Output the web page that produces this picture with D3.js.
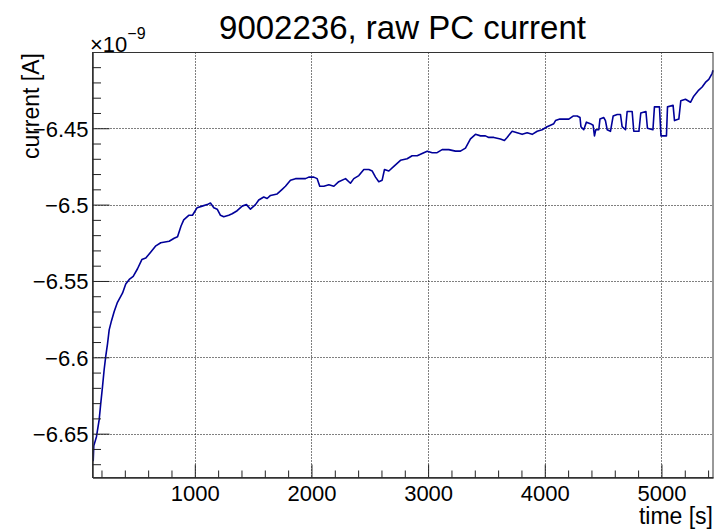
<!DOCTYPE html>
<html>
<head>
<meta charset="utf-8">
<script src="https://cdn.jsdelivr.net/npm/d3@7"></script>
<style>
  body { margin: 0; background: #fff; }
  svg { display: block; font-family: "Liberation Sans", Arial, Helvetica, sans-serif; }
</style>
</head>
<body>
<svg id="chart" width="715" height="532"></svg>
<script>
// Raw PC current of run 9002236, sampled over time
const timeS = [
  129, 134, 157, 180, 194, 209, 223, 237, 252, 266, 286, 309, 337, 380, 408, 438, 472, 509, 546, 580,
  623, 666, 708, 780, 823, 852, 882, 905, 948, 980, 1020, 1063, 1106, 1134, 1163, 1192, 1220, 1248, 1291, 1320,
  1363, 1406, 1443, 1477, 1520, 1548, 1591, 1620, 1649, 1706, 1749, 1777, 1820, 1863, 1906, 1949, 1977, 2020, 2049, 2071,
  2106, 2149, 2192, 2234, 2292, 2334, 2363, 2406, 2449, 2492, 2521, 2549, 2577, 2606, 2626, 2663, 2706, 2763, 2820, 2863,
  2906, 2963, 2992, 3035, 3077, 3120, 3177, 3234, 3277, 3320, 3363, 3406, 3449, 3491, 3520, 3563, 3620, 3654, 3677, 3720,
  3763, 3806, 3849, 3892, 3935, 3977, 4020, 4049, 4077, 4092, 4129, 4178, 4206, 4243, 4278, 4302, 4310, 4334, 4357, 4391,
  4414, 4426, 4437, 4463, 4473, 4506, 4520, 4535, 4563, 4586, 4621, 4649, 4663, 4692, 4706, 4749, 4763, 4807, 4823, 4867,
  4880, 4927, 4940, 4983, 4996, 5043, 5052, 5100, 5112, 5149, 5166, 5206, 5249, 5277, 5320, 5349, 5377, 5406, 5435, 5442
];
// current in units of 1e-9 A
const currentNA = [
  -6.668, -6.658, -6.652, -6.641, -6.630, -6.619, -6.608, -6.599, -6.591, -6.582, -6.576, -6.570, -6.564, -6.558, -6.552, -6.549, -6.547, -6.542, -6.536, -6.535,
  -6.531, -6.527, -6.525, -6.524, -6.522, -6.521, -6.514, -6.510, -6.507, -6.507, -6.502, -6.501, -6.500, -6.499, -6.502, -6.503, -6.507, -6.508, -6.507, -6.506,
  -6.504, -6.501, -6.500, -6.503, -6.500, -6.497, -6.495, -6.496, -6.494, -6.493, -6.490, -6.488, -6.484, -6.483, -6.483, -6.483, -6.482, -6.482, -6.483, -6.488,
  -6.488, -6.487, -6.488, -6.485, -6.483, -6.486, -6.483, -6.481, -6.477, -6.477, -6.478, -6.482, -6.485, -6.484, -6.477, -6.478, -6.475, -6.471, -6.470, -6.468,
  -6.468, -6.466, -6.465, -6.466, -6.466, -6.464, -6.464, -6.465, -6.465, -6.463, -6.457, -6.454, -6.455, -6.455, -6.456, -6.456, -6.457, -6.458, -6.456, -6.452,
  -6.453, -6.454, -6.453, -6.454, -6.452, -6.451, -6.449, -6.448, -6.447, -6.445, -6.444, -6.444, -6.444, -6.442, -6.442, -6.443, -6.449, -6.451, -6.446, -6.447,
  -6.448, -6.455, -6.451, -6.451, -6.444, -6.443, -6.445, -6.451, -6.452, -6.442, -6.441, -6.441, -6.449, -6.451, -6.439, -6.439, -6.452, -6.452, -6.440, -6.439,
  -6.450, -6.451, -6.436, -6.436, -6.455, -6.455, -6.436, -6.435, -6.445, -6.444, -6.432, -6.431, -6.433, -6.429, -6.425, -6.423, -6.420, -6.418, -6.414, -6.412
];

const xDomain = [123, 5442];
const yDomain = [-6.6787, -6.4004];
const xMajorTicks = [1000, 2000, 3000, 4000, 5000];
const xTickLabels = ["1000", "2000", "3000", "4000", "5000"];
const yMajorTicks = [-6.65, -6.6, -6.55, -6.5, -6.45];
const yTickLabels = ["\u22126.65", "\u22126.6", "\u22126.55", "\u22126.5", "\u22126.45"];
const xMinorStep = 200;
const yMinorStep = 0.01;

const frame = { left: 92.5, right: 713, top: 52.5, bottom: 477.5 };
const svg = d3.select("#chart");

const x = d3.scaleLinear().domain(xDomain).range([frame.left, frame.right]);
const y = d3.scaleLinear().domain(yDomain).range([frame.bottom, frame.top]);

// minor tick positions inside the visible range
const xMinor = d3.range(Math.ceil(xDomain[0] / xMinorStep) * xMinorStep, xDomain[1], xMinorStep)
  .filter(v => !xMajorTicks.includes(v));
const yMinor = d3.range(Math.ceil(yDomain[0] / yMinorStep), yDomain[1] / yMinorStep, 1)
  .map(v => +(v * yMinorStep).toFixed(2))
  .filter(v => v > yDomain[0] && v < yDomain[1] && !yMajorTicks.some(m => Math.abs(m - v) < 1e-6));

// dotted grid at major ticks
const grid = svg.append("g").attr("stroke", "#000").attr("stroke-width", 1)
  .attr("stroke-dasharray", "1,2");
grid.selectAll("line.gx").data(xMajorTicks).join("line").attr("class", "gx")
  .attr("x1", d => Math.round(x(d)) + 0.5).attr("x2", d => Math.round(x(d)) + 0.5)
  .attr("y1", frame.top).attr("y2", frame.bottom);
grid.selectAll("line.gy").data(yMajorTicks).join("line").attr("class", "gy")
  .attr("y1", d => Math.round(y(d)) + 0.5).attr("y2", d => Math.round(y(d)) + 0.5)
  .attr("x1", frame.left).attr("x2", frame.right);

// data line
const line = d3.line().x((d, i) => x(timeS[i])).y((d, i) => y(currentNA[i]));
svg.append("path").datum(currentNA)
  .attr("d", line)
  .attr("fill", "none")
  .attr("stroke", "#000099")
  .attr("stroke-width", 1.6)
  .attr("stroke-linejoin", "round");

// frame
svg.append("rect")
  .attr("x", frame.left).attr("y", frame.top)
  .attr("width", frame.right - frame.left).attr("height", frame.bottom - frame.top)
  .attr("fill", "none").attr("stroke", "#333").attr("stroke-width", 1);

// axes with inward ticks
const xAxis = svg.append("g").attr("transform", `translate(0,${frame.bottom})`)
  .call(d3.axisBottom(x).tickValues(xMajorTicks).tickFormat((d, i) => xTickLabels[i])
    .tickSizeInner(-13).tickSizeOuter(0).tickPadding(8));
svg.append("g").attr("transform", `translate(0,${frame.bottom})`)
  .call(d3.axisBottom(x).tickValues(xMinor).tickFormat("").tickSizeInner(-7).tickSizeOuter(0));

const yAxis = svg.append("g").attr("transform", `translate(${frame.left},0)`)
  .call(d3.axisLeft(y).tickValues(yMajorTicks).tickFormat((d, i) => yTickLabels[i])
    .tickSizeInner(-17).tickSizeOuter(0).tickPadding(4));
svg.append("g").attr("transform", `translate(${frame.left},0)`)
  .call(d3.axisLeft(y).tickValues(yMinor).tickFormat("").tickSizeInner(-8.5).tickSizeOuter(0));

svg.selectAll(".domain").attr("stroke", "#333");
svg.selectAll(".tick line").attr("stroke", "#222");
svg.selectAll("g").attr("font-family", null).attr("font-size", null);
xAxis.selectAll(".tick text").style("font-size", "22px").attr("fill", "#000")
  .attr("y", 23).attr("dy", "0");
yAxis.selectAll(".tick text").style("font-size", "22px").attr("fill", "#000")
  .attr("dy", "0.36em");

// titles
svg.append("text").attr("x", 402.5).attr("y", 39).attr("text-anchor", "middle")
  .style("font-size", "33px").text("9002236, raw PC current");
svg.append("text").attr("x", frame.right).attr("y", 524).attr("text-anchor", "end")
  .style("font-size", "23px").text("time [s]");
svg.append("text").attr("transform", "translate(39,53) rotate(-90)").attr("text-anchor", "end")
  .style("font-size", "23px").text("current [A]");

// exponent label
const expo = svg.append("text").attr("x", 90).attr("y", 52).style("font-size", "22px");
expo.append("tspan").text("\u00d710");
expo.append("tspan").style("font-size", "16px").attr("dy", -13).text("\u22129");
</script>
</body>
</html>
